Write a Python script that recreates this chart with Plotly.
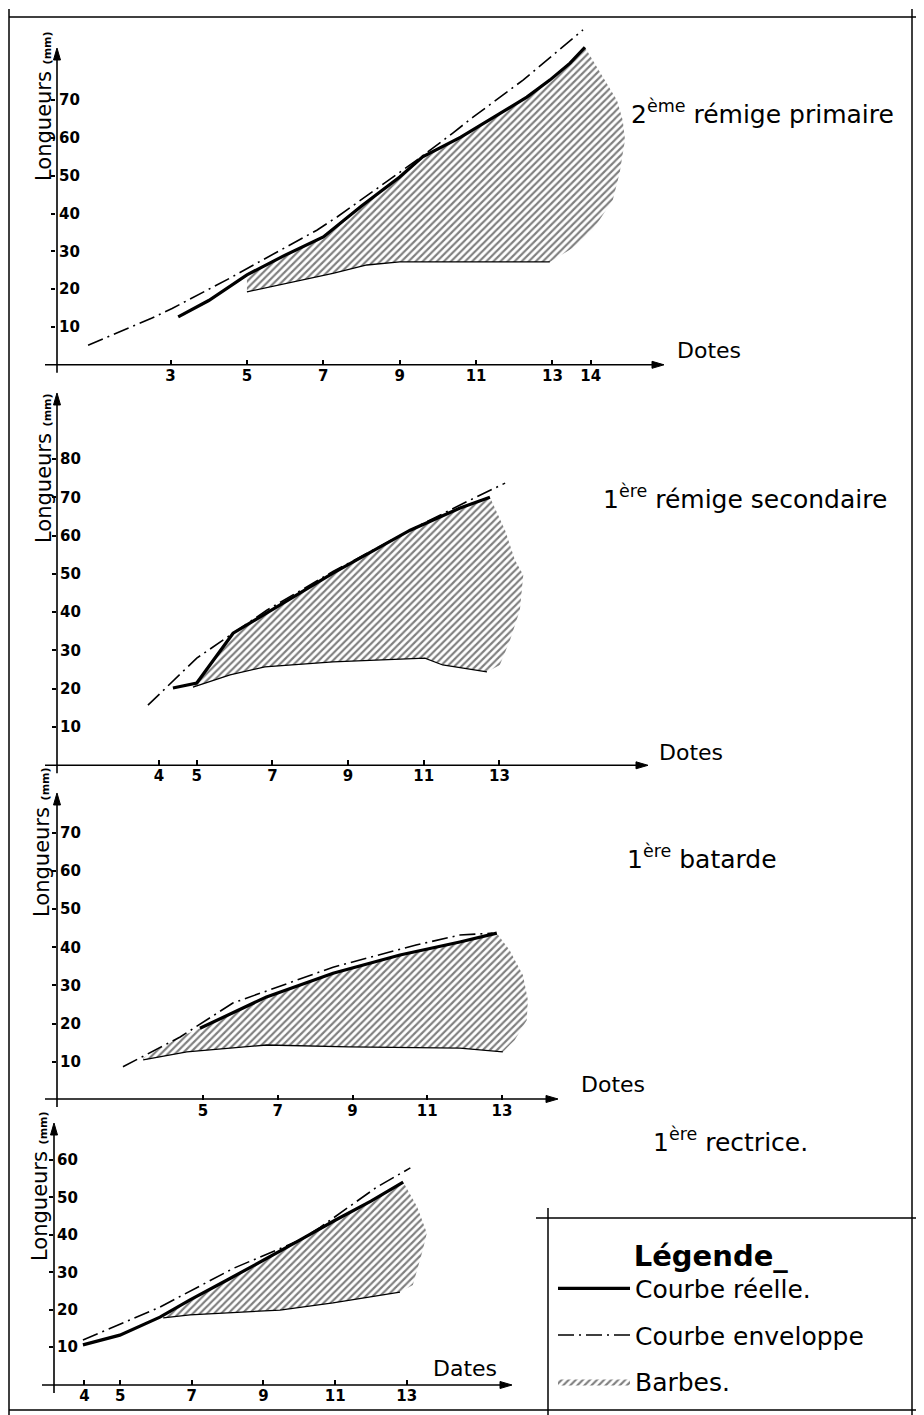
import plotly.graph_objects as go

# the page body adds an 8 px margin: figure is sized to fit the window exactly
OFF = 8
W, H = 924 - OFF, 1415 - OFF

# ---------------- data (dates, lengths in mm) ----------------
# Panel 1 : 2ème rémige primaire
p1_real_x = [3.2, 4.0, 5.0, 6.0, 7.0, 8.0, 9.0, 9.6, 10.6, 11.45, 12.33, 12.93, 13.46, 13.85]
p1_real_y = [12.7, 17.0, 23.8, 29.0, 33.8, 42.0, 49.7, 55.0, 60.2, 65.5, 70.8, 75.3, 79.8, 84.0]
p1_env_x = [0.84, 2.5, 3.04, 4.55, 5.26, 6.83, 7.36, 9.5, 10.39, 10.92, 12.23, 12.85, 13.8]
p1_env_y = [5.2, 12.3, 14.9, 22.9, 26.9, 35.6, 39.1, 54.5, 61.3, 65.5, 75.3, 80.6, 88.6]
p1_up_x = [5.0, 6.0, 7.0, 8.0, 9.0, 9.6, 10.6, 11.45, 12.33, 12.93, 13.46, 13.85]
p1_up_y = [23.8, 29.0, 33.8, 42.0, 49.7, 55.0, 60.2, 65.5, 70.8, 75.3, 79.8, 84.0]
p1_edge_x = [14.32, 14.69, 14.84, 14.9, 14.76, 14.58, 14.06, 13.53, 12.93]
p1_edge_y = [76.1, 70.0, 64.7, 59.5, 50.7, 43.6, 35.7, 30.9, 27.2]
p1_low_x = [5.0, 7.25, 8.14, 9.0, 10.58, 12.93]
p1_low_y = [19.3, 24.2, 26.4, 27.2, 27.2, 27.2]

# Panel 2 : 1ère rémige secondaire
p2_real_x = [4.37, 5.0, 5.96, 6.85, 8.6, 10.64, 11.96, 12.75]
p2_real_y = [20.2, 21.5, 34.5, 39.8, 50.2, 61.4, 67.2, 70.0]
p2_env_x = [3.71, 5.0, 6.85, 8.6, 10.64, 12.0, 13.15]
p2_env_y = [15.7, 28.0, 40.5, 50.6, 61.4, 68.2, 73.7]
p2_up_x = [4.9, 5.0, 5.96, 6.85, 8.6, 10.64, 11.96, 12.75]
p2_up_y = [20.4, 21.5, 34.5, 39.8, 50.2, 61.4, 67.2, 70.0]
p2_edge_x = [13.15, 13.41, 13.63, 13.54, 13.28, 13.01, 12.67]
p2_edge_y = [61.4, 53.6, 49.7, 40.5, 32.7, 26.2, 24.4]
p2_low_x = [4.9, 5.88, 6.8, 8.6, 11.03, 11.5, 12.67]
p2_low_y = [20.4, 23.6, 25.7, 27.0, 28.0, 26.2, 24.4]

# Panel 3 : 1ère batarde
p3_real_x = [4.92, 6.7, 8.48, 10.27, 11.87, 12.86]
p3_real_y = [18.8, 27.0, 33.2, 38.0, 41.4, 43.7]
p3_env_x = [2.86, 4.39, 5.8, 8.48, 10.7, 11.87, 12.75]
p3_env_y = [8.7, 16.5, 25.4, 34.8, 40.6, 43.2, 43.7]
p3_up_x = [3.4, 4.39, 4.92, 6.7, 8.48, 10.27, 11.87, 12.86]
p3_up_y = [11.0, 16.5, 18.8, 27.0, 33.2, 38.0, 41.4, 43.7]
p3_edge_x = [13.2, 13.56, 13.69, 13.66, 13.34, 13.02]
p3_edge_y = [39.3, 32.7, 26.2, 20.9, 15.7, 12.6]
p3_low_x = [3.4, 4.57, 6.7, 8.9, 11.87, 13.02]
p3_low_y = [10.5, 12.6, 14.4, 13.9, 13.6, 12.6]

# Panel 4 : 1ère rectrice
p4_real_x = [3.96, 4.99, 6.11, 6.95, 8.0, 9.0, 10.0, 11.0, 12.0, 12.9]
p4_real_y = [10.6, 13.2, 18.0, 22.6, 28.0, 33.2, 38.5, 43.9, 49.0, 54.1]
p4_env_x = [3.96, 6.11, 8.15, 10.02, 10.58, 12.17, 13.1]
p4_env_y = [11.9, 20.7, 31.0, 38.6, 42.0, 52.8, 57.9]
p4_up_x = [6.2, 6.95, 8.0, 9.0, 10.0, 11.0, 12.0, 12.9]
p4_up_y = [17.9, 22.6, 28.0, 33.2, 38.5, 43.9, 49.0, 54.1]
p4_edge_x = [13.29, 13.56, 13.45, 13.17, 12.81]
p4_edge_y = [47.5, 40.5, 36.0, 26.6, 24.7]
p4_low_x = [6.2, 6.95, 9.46, 10.94, 12.81]
p4_low_y = [17.8, 18.6, 19.9, 21.8, 24.7]

p1_xticks = [3, 5, 7, 9, 11, 13, 14]
p2_xticks = [4, 5, 7, 9, 11, 13]
p3_xticks = [5, 7, 9, 11, 13]
p4_xticks = [4, 5, 7, 9, 11, 13]
p1_yticks = [10, 20, 30, 40, 50, 60, 70]
p2_yticks = [10, 20, 30, 40, 50, 60, 70, 80]
p3_yticks = [10, 20, 30, 40, 50, 60, 70]
p4_yticks = [10, 20, 30, 40, 50, 60]

titles = ["2<sup>ème</sup> rémige primaire", "1<sup>ère</sup> rémige secondaire",
          "1<sup>ère</sup> batarde", "1<sup>ère</sup> rectrice."]
legend_names = ["Courbe réelle.", "Courbe enveloppe", "Barbes."]
xlabels = ["Dotes", "Dotes", "Dotes", "Dates"]
ylabel = "Longueurs <span style='font-size:11px'><b>(mm)</b></span>"

# ---------------- layout helpers (page pixel -> paper) ----------------
def X(px):
    return (px - OFF) / W

def Y(py):
    return 1 - (py - OFF) / H

FONT = "DejaVu Sans"

panels = [
    dict(real=(p1_real_x, p1_real_y), env=(p1_env_x, p1_env_y), up=(p1_up_x, p1_up_y),
         edge=(p1_edge_x, p1_edge_y), low=(p1_low_x, p1_low_y),
         xt=p1_xticks, yt=p1_yticks,
         xdom=(56, 680), xr=(0.0, 16.34), ydom=(364.8, 20), yr=(0, 91.2),
         yaxis_px=57, xaxis_py=364.8, ytop=48, xend=664, xstart=45,
         title=(762, 113), ylab=(44, 106), xlab=(709, 350)),
    dict(real=(p2_real_x, p2_real_y), env=(p2_env_x, p2_env_y), up=(p2_up_x, p2_up_y),
         edge=(p2_edge_x, p2_edge_y), low=(p2_low_x, p2_low_y),
         xt=p2_xticks, yt=p2_yticks,
         xdom=(57, 650), xr=(1.306, 16.98), ydom=(765.3, 392), yr=(0, 97.5),
         yaxis_px=57, xaxis_py=765.3, ytop=393, xend=648, xstart=45,
         title=(745, 497), ylab=(44, 468), xlab=(691, 752)),
    dict(real=(p3_real_x, p3_real_y), env=(p3_env_x, p3_env_y), up=(p3_up_x, p3_up_y),
         edge=(p3_edge_x, p3_edge_y), low=(p3_low_x, p3_low_y),
         xt=p3_xticks, yt=p3_yticks,
         xdom=(57, 560), xr=(1.096, 14.55), ydom=(1100, 790), yr=(0, 81.2),
         yaxis_px=57, xaxis_py=1099, ytop=793, xend=558, xstart=45,
         title=(702, 857), ylab=(42, 842), xlab=(613, 1084)),
    dict(real=(p4_real_x, p4_real_y), env=(p4_env_x, p4_env_y), up=(p4_up_x, p4_up_y),
         edge=(p4_edge_x, p4_edge_y), low=(p4_low_x, p4_low_y),
         xt=p4_xticks, yt=p4_yticks,
         xdom=(54, 530), xr=(3.152, 16.44), ydom=(1384.5, 1120), yr=(0, 70.7),
         yaxis_px=54, xaxis_py=1385, ytop=1123, xend=512, xstart=42,
         title=(730, 1140), ylab=(40, 1186), xlab=(465, 1368)),
]

fig = go.Figure()
annotations = []
shapes = []

def txt(x, y, text, size, angle=0, weight="normal"):
    return dict(xref="paper", yref="paper", x=X(x), y=Y(y), xanchor="center", yanchor="middle",
                text=text, textangle=angle, showarrow=False,
                font=dict(family=FONT, size=size, color="black", weight=weight))

def seg(x0, y0, x1, y1, w=1.6):
    return dict(type="line", xref="paper", yref="paper",
                x0=X(x0), y0=Y(y0), x1=X(x1), y1=Y(y1),
                line=dict(color="black", width=w))

def tri(pts):
    path = "M " + " L ".join(f"{X(a):.5f},{Y(b):.5f}" for a, b in pts) + " Z"
    return dict(type="path", xref="paper", yref="paper", path=path,
                fillcolor="black", line=dict(color="black", width=1))

for i, p in enumerate(panels):
    n = "" if i == 0 else str(i + 1)
    xa, ya = "x" + n, "y" + n
    first = i == 0
    ux, uy = p["up"]
    ex, ey = p["edge"]
    lx, ly = p["low"]
    poly_x = list(ux) + list(ex) + list(reversed(lx))
    poly_y = list(uy) + list(ey) + list(reversed(ly))
    fig.add_trace(go.Scatter(
        x=poly_x, y=poly_y, xaxis=xa, yaxis=ya, mode="lines", fill="toself",
        fillcolor="white", line=dict(width=0, color="black"),
        fillpattern=dict(shape="/", fgcolor="black", bgcolor="white", size=5, solidity=0.42),
        name=legend_names[2], showlegend=first, legendgroup="c", legendrank=3, hoverinfo="skip"))
    fig.add_trace(go.Scatter(
        x=lx, y=ly, xaxis=xa, yaxis=ya, mode="lines",
        line=dict(width=1.3, color="black"), showlegend=False, hoverinfo="skip"))
    fig.add_trace(go.Scatter(
        x=p["env"][0], y=p["env"][1], xaxis=xa, yaxis=ya, mode="lines",
        line=dict(width=1.6, color="black", dash="16px,5px,2px,5px"),
        name=legend_names[1], showlegend=first, legendgroup="b", legendrank=2))
    fig.add_trace(go.Scatter(
        x=p["real"][0], y=p["real"][1], xaxis=xa, yaxis=ya, mode="lines",
        line=dict(width=3.2, color="black"),
        name=legend_names[0], showlegend=first, legendgroup="a", legendrank=1))

    xd, yd = p["xdom"], p["ydom"]
    fig.update_layout(**{
        "xaxis" + n: dict(domain=[X(xd[0]), X(xd[1])], range=list(p["xr"]), anchor=ya,
                          tickvals=p["xt"], ticks="inside", ticklen=5, tickwidth=1.5,
                          tickcolor="black", showgrid=False, zeroline=False, showline=False,
                          tickfont=dict(family=FONT, size=15, color="black", weight="bold")),
        "yaxis" + n: dict(domain=[Y(yd[0]), Y(yd[1])], range=list(p["yr"]), anchor=xa,
                          tickvals=p["yt"], ticks="outside", ticklen=4, tickwidth=1.5,
                          tickcolor="black", ticklabelposition="inside",
                          showgrid=False, zeroline=False, showline=False,
                          tickfont=dict(family=FONT, size=15, color="black", weight="bold")),
    })

    # axis lines with arrow heads
    yx, xy = p["yaxis_px"], p["xaxis_py"]
    shapes.append(seg(yx, xy + 8, yx, p["ytop"] + 6))
    shapes.append(tri([(yx - 3.5, p["ytop"] + 12), (yx, p["ytop"]), (yx + 3.5, p["ytop"] + 12)]))
    shapes.append(seg(p["xstart"], xy, p["xend"] - 6, xy))
    shapes.append(tri([(p["xend"] - 12, xy - 3.5), (p["xend"], xy), (p["xend"] - 12, xy + 3.5)]))

    annotations.append(txt(p["xlab"][0], p["xlab"][1], xlabels[i], 22))
    annotations.append(txt(p["title"][0], p["title"][1], titles[i], 25))
    annotations.append(txt(p["ylab"][0], p["ylab"][1], ylabel, 21, angle=-90))

# page frame and legend box lines
frame = [
    (9, 17, 924, 17), (9, 9, 9, 1415), (912, 9, 912, 1415), (9, 1410, 924, 1410),
    (536, 1218, 924, 1218), (548, 1208, 548, 1415),
]
for x0, y0, x1, y1 in frame:
    shapes.append(seg(x0, y0, x1, y1, 1.5))

fig.update_layout(
    width=W, height=H, margin=dict(l=0, r=0, t=0, b=0),
    paper_bgcolor="white", plot_bgcolor="white",
    annotations=annotations, shapes=shapes,
    legend=dict(x=X(553), y=Y(1228), xanchor="left", yanchor="top",
                bgcolor="rgba(0,0,0,0)", itemwidth=72, tracegroupgap=11,
                font=dict(family=FONT, size=25, color="black"),
                title=dict(text="<b>Légende_</b>", side="top center",
                           font=dict(family=FONT, size=29, color="black"))),
)

fig.write_html("out.html")
